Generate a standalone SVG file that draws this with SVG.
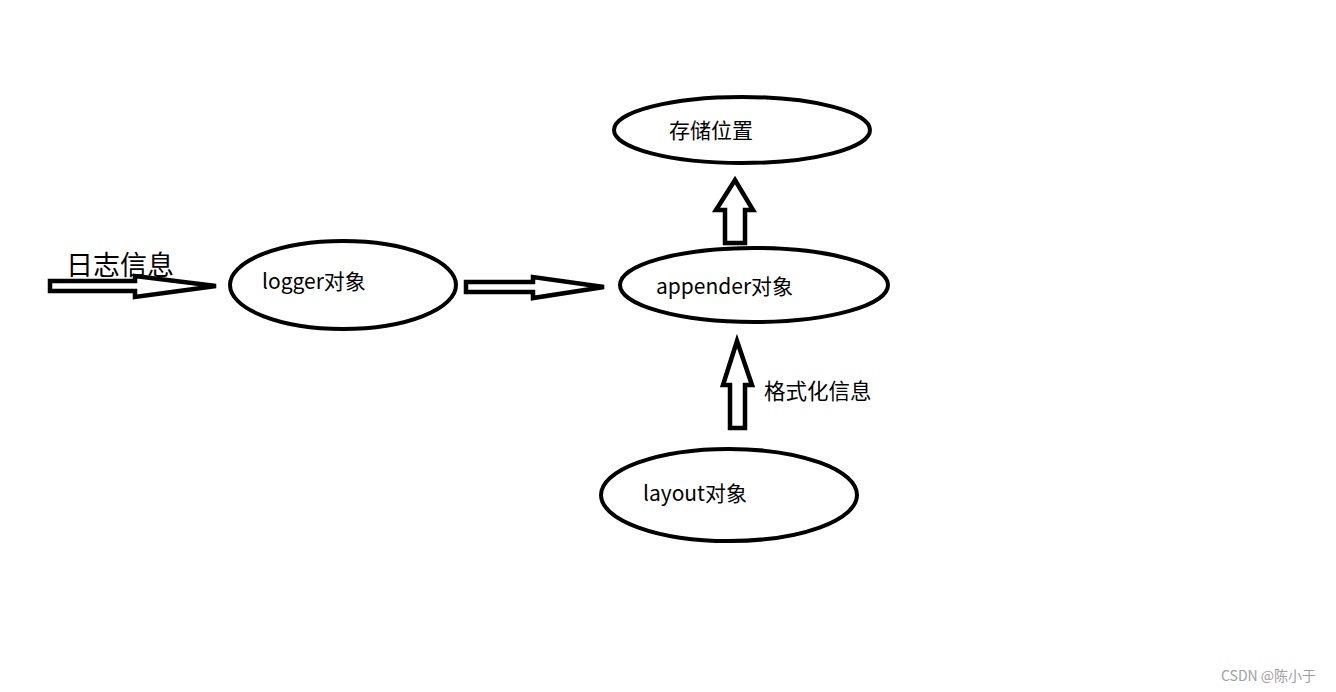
<svg xmlns="http://www.w3.org/2000/svg" width="1336" height="692" viewBox="0 0 1336 692">
<style>
.node{fill:#fff;stroke:#000;stroke-width:4}
.arr{fill:#fff;stroke:#000;stroke-width:4.5;stroke-linejoin:miter}
.t{font-family:"Noto Sans CJK SC","Microsoft YaHei",sans-serif;font-size:21px;fill:#000}
</style>
<rect width="1336" height="692" fill="#fff"/>
<g id="connectors">
<polygon class="arr" points="50,281 135,281 135,276 216,286 135,297 135,291 50,291"/>
<polygon class="arr" points="466,282 533,282 533,277 604,287 533,298 533,292 466,292"/>
<polygon class="arr" points="725,243 725,210 716,210 735,180 753,210 745,210 745,243"/>
<polygon class="arr" points="730,428 730,385 723,385 737,341 752,385 745,385 745,428"/>
<text class="t" x="764" y="399" style="font-size:21.5px">格式化信息</text>
</g>
<g id="input">
<text class="t" x="66" y="275" style="font-size:27px">日志信息</text>
</g>
<g id="logger">
<ellipse class="node" cx="343" cy="285" rx="113" ry="44"/>
<text class="t" x="262" y="289">logger对象</text>
</g>
<g id="appender">
<ellipse class="node" cx="754" cy="285" rx="134" ry="37"/>
<text class="t" x="656" y="294">appender对象</text>
</g>
<g id="storage">
<ellipse class="node" cx="742" cy="130" rx="128" ry="33"/>
<text class="t" x="669" y="138">存储位置</text>
</g>
<g id="layout">
<ellipse class="node" cx="729" cy="495" rx="128" ry="46"/>
<text class="t" x="643" y="501">layout对象</text>
</g>
<text x="1221" y="681" style="font-family:'Noto Sans CJK SC',sans-serif;font-size:14px;fill:#a0a0a0">CSDN @陈小于</text>
</svg>
